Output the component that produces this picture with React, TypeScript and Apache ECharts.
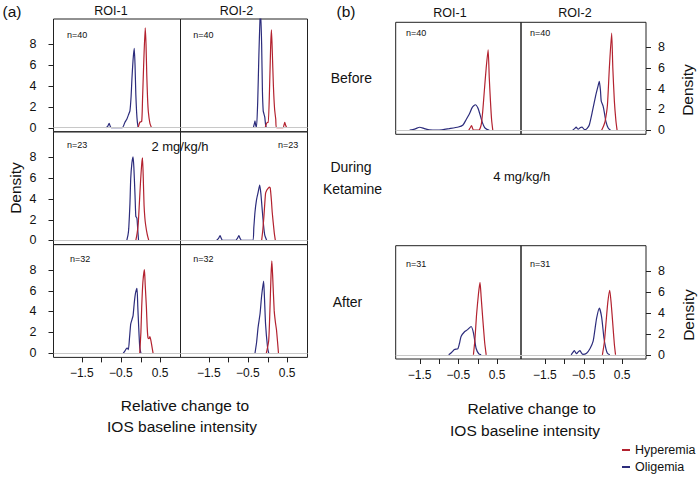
import React, { useEffect, useRef } from "react";
import * as echarts from "echarts";

// ---------- data (x = relative change, y = density) ----------
// Panel (a): rows = before / 2 mg/kg/h / after, columns = ROI-1 / ROI-2
const A1_ROI1_OLI = [[-0.88,0],[-0.84,0.1],[-0.8,0.4],[-0.77,0.1],[-0.75,0],[-0.46,0],[-0.43,0.2],[-0.4,0.5],[-0.35,0.8],[-0.31,1.2],[-0.27,1.6],[-0.24,3.0],[-0.22,4.6],[-0.19,6.5],[-0.16,7.6],[-0.14,6.0],[-0.12,3.2],[-0.1,1.5],[-0.08,0.5],[-0.06,0]];
const A1_ROI1_HYP = [[-0.06,0],[-0.02,0.5],[0.03,0.6],[0.05,2.5],[0.08,6.0],[0.12,9.55],[0.14,8.0],[0.16,5.0],[0.18,2.8],[0.2,1.5],[0.24,0.4],[0.28,0]];
const A1_ROI2_OLI = [[-0.36,0],[-0.34,0.3],[-0.32,0.65],[-0.3,0.2],[-0.28,0.05],[-0.25,2.5],[-0.22,7.0],[-0.19,10.6],[-0.175,11.0],[-0.15,8.0],[-0.13,3.5],[-0.11,1.6],[-0.09,1.3],[-0.07,1.0],[-0.05,0.3],[-0.03,0]];
const A1_ROI2_HYP = [[-0.06,0],[-0.03,0.35],[0.0,0.5],[0.02,0.5],[0.05,3.5],[0.08,7.8],[0.1,9.35],[0.12,7.5],[0.15,4.0],[0.18,1.8],[0.21,0.8],[0.23,0],[0.4,0],[0.42,0.25],[0.44,0.5],[0.46,0.25],[0.49,0]];
const A2_ROI1_OLI = [[-0.35,0],[-0.32,0.5],[-0.3,1.15],[-0.27,3.5],[-0.25,5.9],[-0.22,7.4],[-0.19,8.0],[-0.17,7.0],[-0.14,4.3],[-0.12,2.3],[-0.1,2.2],[-0.09,2.1],[-0.07,1.0],[-0.05,0]];
const A2_ROI1_HYP = [[-0.12,0],[-0.09,0.6],[-0.06,1.5],[-0.03,3.5],[0.0,5.6],[0.03,7.3],[0.05,7.9],[0.07,6.0],[0.09,3.4],[0.11,2.2],[0.13,1.5],[0.17,0.6],[0.21,0]];
const A2_ROI2_OLI = [[-1.3,0],[-1.25,0.2],[-1.21,0.45],[-1.18,0.2],[-1.15,0],[-0.81,0],[-0.77,0.2],[-0.73,0.45],[-0.7,0.2],[-0.66,0],[-0.38,0],[-0.35,1.2],[-0.32,2.7],[-0.28,3.9],[-0.24,4.6],[-0.2,5.3],[-0.17,4.5],[-0.13,2.7],[-0.1,1.4],[-0.07,0.5],[-0.02,0]];
const A2_ROI2_HYP = [[-0.15,0],[-0.12,1.0],[-0.09,2.4],[-0.05,4.5],[-0.02,4.8],[0.02,5.0],[0.05,5.1],[0.07,5.0],[0.1,3.8],[0.12,2.7],[0.17,0.8],[0.2,0]];
const A3_ROI1_OLI = [[-0.44,0],[-0.4,0.2],[-0.37,0.4],[-0.34,0.5],[-0.31,0.35],[-0.28,1.5],[-0.25,2.8],[-0.22,3.2],[-0.19,3.6],[-0.16,4.8],[-0.13,5.7],[-0.09,6.2],[-0.07,4.5],[-0.05,2.8],[-0.02,0.6],[0.01,0]];
const A3_ROI1_HYP = [[-0.02,0],[0.01,2.0],[0.03,4.4],[0.06,6.8],[0.1,8.0],[0.12,6.5],[0.15,4.4],[0.17,2.5],[0.19,1.5],[0.22,1.4],[0.24,1.6],[0.26,1.3],[0.28,0.9],[0.32,0]];
const A3_ROI2_OLI = [[-0.32,0],[-0.28,1.0],[-0.24,2.5],[-0.19,3.8],[-0.15,5.5],[-0.1,6.9],[-0.08,5.5],[-0.05,2.8],[0.0,0.6],[0.03,0]];
const A3_ROI2_HYP = [[-0.03,0],[0.03,1.2],[0.06,4.0],[0.09,7.5],[0.11,8.85],[0.13,7.5],[0.17,4.1],[0.2,3.0],[0.23,2.2],[0.28,0]];

// Panel (b): rows = before / after, columns = ROI-1 / ROI-2
const B1_ROI1_OLI = [[-1.76,0],[-1.63,0.1],[-1.5,0.28],[-1.38,0.15],[-1.25,0.02],[-1.0,0],[-0.73,0.15],[-0.5,0.3],[-0.38,0.5],[-0.3,1.0],[-0.21,1.6],[-0.14,2.2],[-0.06,2.45],[0.01,2.1],[0.06,1.5],[0.12,0.75],[0.18,0.25],[0.25,0.05],[0.3,0]];
const B1_ROI1_HYP = [[-0.23,0],[-0.19,0.25],[-0.16,0.45],[-0.13,0.15],[-0.11,0],[0.03,0],[0.09,0.5],[0.13,1.8],[0.17,3.7],[0.22,6.0],[0.27,7.75],[0.3,5.0],[0.33,2.8],[0.36,1.0],[0.39,0]];
const B1_ROI2_OLI = [[-0.78,0],[-0.73,0.15],[-0.69,0.3],[-0.66,0.15],[-0.63,0.1],[-0.58,0.25],[-0.54,0.3],[-0.49,0.1],[-0.45,0.05],[-0.4,0.2],[-0.35,0.5],[-0.27,1.8],[-0.18,3.4],[-0.12,4.3],[-0.09,4.7],[-0.06,3.8],[-0.04,2.8],[0.01,2.3],[0.05,1.5],[0.08,0.85],[0.14,0.2],[0.2,0]];
const B1_ROI2_HYP = [[-0.03,0],[0.02,0.4],[0.06,0.85],[0.12,2.4],[0.17,6.0],[0.23,9.35],[0.26,6.0],[0.3,2.8],[0.34,0.9],[0.37,0]];
const B2_ROI1_OLI = [[-0.75,0],[-0.67,0.25],[-0.6,0.5],[-0.51,0.6],[-0.47,1.1],[-0.43,1.75],[-0.34,2.2],[-0.26,2.4],[-0.17,2.7],[-0.11,2.1],[-0.04,0.6],[0.03,0.1],[0.09,0]];
const B2_ROI1_HYP = [[-0.11,0],[-0.07,1.5],[-0.03,3.8],[0.02,5.8],[0.06,6.9],[0.09,5.5],[0.13,3.5],[0.18,1.2],[0.22,0]];
const B2_ROI2_OLI = [[-0.82,0],[-0.78,0.2],[-0.74,0.4],[-0.71,0.25],[-0.68,0.1],[-0.63,0.3],[-0.59,0.4],[-0.55,0.15],[-0.52,0.05],[-0.42,0.15],[-0.33,0.6],[-0.25,1.3],[-0.2,2.5],[-0.16,3.5],[-0.09,4.45],[-0.03,3.6],[0.03,1.6],[0.08,0.6],[0.12,0.15],[0.18,0]];
const B2_ROI2_HYP = [[-0.01,0],[0.04,1.2],[0.08,2.9],[0.13,5.0],[0.18,6.15],[0.22,4.8],[0.26,2.9],[0.3,1.0],[0.33,0]];

const Y_TICKS = [0, 2, 4, 6, 8];
const X_TICKS = [-1.5, -1, -0.5, 0, 0.5];
const X_LABELS = [-1.5, -0.5, 0.5];
const SERIES_NAMES = ["Hyperemia", "Oligemia"];

// axis ranges
const A_X_RANGE = [-2.22, 1.02];
const B_X_RANGE = [-2.12, 1.12];
const Y_RANGE = [-0.4, 10.4];

const FONT = "'Liberation Sans', Arial, Helvetica, sans-serif";
const RED = "#b3222f";
const BLUE = "#2c2c7c";
const INK = "#111";
const FRAME = "#222";
const TICK_LEN = 5;

const panels = [
  { left: 53.5, top: 19, w: 127, h: 112.8, xr: A_X_RANGE, xLab: false, yLab: "left", hyp: A1_ROI1_HYP, oli: A1_ROI1_OLI },
  { left: 180.5, top: 19, w: 127, h: 112.8, xr: A_X_RANGE, xLab: false, yLab: null, hyp: A1_ROI2_HYP, oli: A1_ROI2_OLI },
  { left: 53.5, top: 131.8, w: 127, h: 112.8, xr: A_X_RANGE, xLab: false, yLab: "left", hyp: A2_ROI1_HYP, oli: A2_ROI1_OLI },
  { left: 180.5, top: 131.8, w: 127, h: 112.8, xr: A_X_RANGE, xLab: false, yLab: null, hyp: A2_ROI2_HYP, oli: A2_ROI2_OLI },
  { left: 53.5, top: 244.6, w: 127, h: 112.8, xr: A_X_RANGE, xLab: true, yLab: "left", hyp: A3_ROI1_HYP, oli: A3_ROI1_OLI },
  { left: 180.5, top: 244.6, w: 127, h: 112.8, xr: A_X_RANGE, xLab: true, yLab: null, hyp: A3_ROI2_HYP, oli: A3_ROI2_OLI },
  { left: 395.7, top: 22.3, w: 125.3, h: 112, xr: B_X_RANGE, xLab: false, yLab: null, hyp: B1_ROI1_HYP, oli: B1_ROI1_OLI },
  { left: 521, top: 22.3, w: 125, h: 112, xr: B_X_RANGE, xLab: false, yLab: "right", hyp: B1_ROI2_HYP, oli: B1_ROI2_OLI },
  { left: 395.7, top: 245.7, w: 125.3, h: 113.3, xr: B_X_RANGE, xLab: true, yLab: null, hyp: B2_ROI1_HYP, oli: B2_ROI1_OLI },
  { left: 521, top: 245.7, w: 125, h: 113.3, xr: B_X_RANGE, xLab: true, yLab: "right", hyp: B2_ROI2_HYP, oli: B2_ROI2_OLI },
];

const fmt = (v: number) => (v < 0 ? "\u2212" + Math.abs(v) : String(v));

type T = { t: string; x: number; y: number; s: number; a?: string; r?: boolean };
const texts: T[] = [
  { t: "(a)", x: 12, y: 11, s: 15.5 },
  { t: "ROI-1", x: 111, y: 11, s: 12.5 },
  { t: "ROI-2", x: 236.5, y: 11, s: 12.5 },
  { t: "Density", x: 15, y: 188, s: 15.5, r: true },
  { t: "n=40", x: 67, y: 35, s: 9, a: "left" },
  { t: "n=40", x: 193.3, y: 35, s: 9, a: "left" },
  { t: "n=23", x: 67, y: 144.7, s: 9, a: "left" },
  { t: "n=23", x: 278, y: 145, s: 9, a: "left" },
  { t: "2 mg/kg/h", x: 180, y: 146.3, s: 13 },
  { t: "n=32", x: 70, y: 258.7, s: 9, a: "left" },
  { t: "n=32", x: 193.3, y: 258.7, s: 9, a: "left" },
  { t: "Relative change to", x: 185, y: 405, s: 15.5 },
  { t: "IOS baseline intensity", x: 182, y: 426, s: 15.5 },
  { t: "(b)", x: 346, y: 11.7, s: 15.5 },
  { t: "ROI-1", x: 450, y: 12.7, s: 12.5 },
  { t: "ROI-2", x: 575, y: 12.7, s: 12.5 },
  { t: "Before", x: 351.3, y: 77.7, s: 14 },
  { t: "During", x: 351, y: 167.3, s: 14 },
  { t: "Ketamine", x: 352.5, y: 189.3, s: 14 },
  { t: "4 mg/kg/h", x: 521.7, y: 176.7, s: 13 },
  { t: "After", x: 347.5, y: 302, s: 14 },
  { t: "n=40", x: 406, y: 33.3, s: 9, a: "left" },
  { t: "n=40", x: 530, y: 33.3, s: 9, a: "left" },
  { t: "n=31", x: 406, y: 263.7, s: 9, a: "left" },
  { t: "n=31", x: 530, y: 263.7, s: 9, a: "left" },
  { t: "Density", x: 687, y: 90, s: 15.5, r: true },
  { t: "Density", x: 688, y: 315, s: 15.5, r: true },
  { t: "Relative change to", x: 531.7, y: 408.3, s: 15.5 },
  { t: "IOS baseline intensity", x: 525, y: 430, s: 15.5 },
];

export default function App() {
  const ref = useRef<HTMLDivElement>(null);
  useEffect(() => {
    if (!ref.current) return;
    const chart = echarts.init(ref.current, undefined, { renderer: "svg" });
    const grid: any[] = [];
    const xAxis: any[] = [];
    const yAxis: any[] = [];
    const series: any[] = [];

    panels.forEach((p, i) => {
      grid.push({ left: p.left, top: p.top, width: p.w, height: p.h, show: true, borderColor: FRAME, borderWidth: 1 });
      xAxis.push({
        gridIndex: i, type: "value", min: p.xr[0], max: p.xr[1], position: "bottom",
        axisLine: { show: false, onZero: false }, splitLine: { show: false }, axisTick: { show: false },
        axisLabel: { show: p.xLab, customValues: X_LABELS, margin: 10, fontSize: 12, color: INK, fontFamily: FONT, formatter: (v: number) => fmt(v) },
      });
      yAxis.push({
        gridIndex: i, type: "value", min: Y_RANGE[0], max: Y_RANGE[1],
        position: p.yLab === "right" ? "right" : "left",
        axisLine: { show: false, onZero: false }, splitLine: { show: false }, axisTick: { show: false },
        axisLabel: { show: !!p.yLab, customValues: Y_TICKS, margin: p.yLab === "right" ? 12 : 17, fontSize: 12.5, color: INK, fontFamily: FONT },
      });
      series.push({
        type: "line", name: "baseline", xAxisIndex: i, yAxisIndex: i, data: [], z: 1, silent: true,
        markLine: {
          silent: true, symbol: ["none", "none"], label: { show: false },
          lineStyle: { color: "#c8c8c8", width: 1, type: "solid" },
          data: [{ yAxis: 0 }], animation: false,
        },
      });
      series.push({
        type: "line", name: SERIES_NAMES[1], xAxisIndex: i, yAxisIndex: i, data: p.oli,
        showSymbol: false, symbol: "none", smooth: 0.2, clip: true, z: 3,
        lineStyle: { color: BLUE, width: 1.2 }, itemStyle: { color: BLUE },
      });
      series.push({
        type: "line", name: SERIES_NAMES[0], xAxisIndex: i, yAxisIndex: i, data: p.hyp,
        showSymbol: false, symbol: "none", smooth: 0.2, clip: true, z: 3,
        lineStyle: { color: RED, width: 1.2 }, itemStyle: { color: RED },
      });
    });

    chart.setOption({
      animation: false,
      backgroundColor: "#fff",
      grid, xAxis, yAxis, series,
      legend: {
        orient: "vertical", left: 622, top: 443, padding: 0,
        itemWidth: 8, itemHeight: 2, itemGap: 3, icon: "rect",
        data: SERIES_NAMES, selectedMode: false,
        textStyle: { fontSize: 12.5, fontFamily: FONT, color: INK, lineHeight: 14 },
      },
    });

    // data -> pixel through the chart's own scales (linear fallback on the same axis ranges)
    const toPx = (i: number, x: number, y: number): number[] => {
      let r: any = null;
      try { r = chart.convertToPixel({ xAxisIndex: i, yAxisIndex: i } as any, [x, y]); } catch (e) { r = null; }
      if (!r || !isFinite(r[0]) || !isFinite(r[1])) {
        const p = panels[i];
        r = [
          p.left + ((x - p.xr[0]) / (p.xr[1] - p.xr[0])) * p.w,
          p.top + ((Y_RANGE[1] - y) / (Y_RANGE[1] - Y_RANGE[0])) * p.h,
        ];
      }
      return r;
    };

    const elements: any[] = texts.map((t) => ({
      type: "text", x: t.x, y: t.y, rotation: t.r ? Math.PI / 2 : 0, silent: true,
      style: { text: t.t, fontSize: t.s, fontFamily: FONT, fill: INK, align: t.a || "center", verticalAlign: "middle" },
    }));
    const tickStyle = { stroke: FRAME, lineWidth: 1, fill: "none" };
    panels.forEach((p, i) => {
      if (p.yLab) {
        const isLeft = p.yLab === "left";
        Y_TICKS.forEach((v) => {
          const pt = toPx(i, isLeft ? p.xr[0] : p.xr[1], v);
          const y = Math.round(pt[1]) + 0.5;
          const x0 = pt[0];
          elements.push({ type: "line", silent: true, z: 100, shape: { x1: x0, y1: y, x2: isLeft ? x0 - TICK_LEN : x0 + TICK_LEN, y2: y }, style: tickStyle });
        });
      }
      if (p.xLab) {
        X_TICKS.forEach((v) => {
          const pt = toPx(i, v, Y_RANGE[0]);
          const x = Math.round(pt[0]) + 0.5;
          const y0 = pt[1];
          elements.push({ type: "line", silent: true, z: 100, shape: { x1: x, y1: y0, x2: x, y2: y0 + TICK_LEN }, style: tickStyle });
        });
      }
    });
    chart.setOption({ graphic: { elements } });

    return () => chart.dispose();
  }, []);
  return <div ref={ref} style={{ position: "absolute", left: 0, top: 0, width: 700, height: 478 }} />;
}
